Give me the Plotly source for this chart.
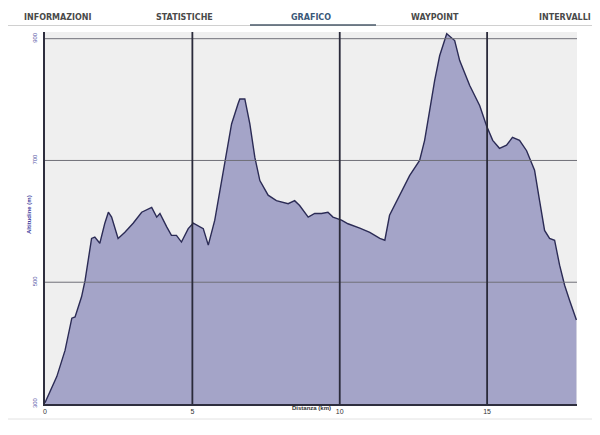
import plotly.graph_objects as go

distance_km = [0, 0.40, 0.68, 0.91, 1.02, 1.24, 1.36, 1.47, 1.58, 1.69, 1.86, 2.03, 2.15, 2.26,
               2.48, 2.71, 2.99, 3.28, 3.62, 3.79, 3.90, 4.13, 4.29, 4.46, 4.63, 4.86, 5.03,
               5.37, 5.54, 5.76, 5.93, 6.10, 6.33, 6.55, 6.61, 6.78, 6.95, 7.12, 7.29, 7.57,
               7.85, 8.25, 8.47, 8.64, 8.93, 9.15, 9.38, 9.60, 9.77, 10.06, 10.28, 10.68,
               11.02, 11.36, 11.53, 11.69, 12.03, 12.37, 12.71, 12.88, 13.05, 13.22, 13.39,
               13.63, 13.90, 14.07, 14.41, 14.75, 14.98, 15.19, 15.42, 15.66, 15.86, 16.10,
               16.34, 16.61, 16.78, 16.95, 17.12, 17.29, 17.46, 17.63, 17.80, 18.03]
altitude_m = [302, 345, 388, 441, 443, 476, 503, 536, 572, 574, 564, 597, 615, 607,
              572, 582, 597, 615, 623, 607, 613, 591, 577, 577, 566, 588, 597,
              588, 561, 602, 651, 695, 760, 793, 801, 801, 760, 705, 667, 643,
              634, 629, 634, 626, 607, 613, 613, 615, 607, 602, 596, 589,
              582, 572, 569, 610, 643, 675, 700, 733, 782, 831, 872,
              908, 897, 864, 823, 790, 757, 733, 720, 725, 738, 733,
              716, 684, 634, 585, 572, 569, 528, 495, 470, 438]

x_ticks = [0, 5, 10, 15]
y_ticks = [300, 500, 700, 900]
tabs = ["INFORMAZIONI", "STATISTICHE", "GRAFICO", "WAYPOINT", "INTERVALLI"]
tab_px = [58, 184, 311, 435, 537]

OFF = 8  # page body margin
L, R, T, B = 45, 577, 32, 404  # plot area in window pixels
W, H = 600 - OFF, 435 - OFF


def px(x):
    return (x - L) / (R - L)


def py(y):
    return (B - y) / (B - T)


fig = go.Figure()
fig.add_trace(go.Scatter(
    x=distance_km, y=altitude_m, mode="lines",
    line=dict(color="#2b2b55", width=1.4),
    fill="tozeroy", fillcolor="#a4a4c8",
    hoverinfo="skip", showlegend=False,
))

fig.update_layout(
    width=W, height=H,
    margin=dict(l=L - OFF, r=600 - R, t=T - OFF, b=435 - B),
    paper_bgcolor="white", plot_bgcolor="#efefef",
    font=dict(family="Liberation Sans, Arial, sans-serif"),
    xaxis=dict(range=[0, 18.05], tickvals=x_ticks, ticktext=[str(v) for v in x_ticks],
               showgrid=False,
               showline=True, linecolor="#2e2e3e", linewidth=1.5,
               zeroline=False, layer="above traces", ticks="",
               tickfont=dict(size=7, color="#333")),
    yaxis=dict(range=[300, 911], tickvals=y_ticks, ticktext=[str(v) for v in y_ticks],
               showgrid=False,
               showline=True, linecolor="#2e2e3e", linewidth=1.5,
               zeroline=False, layer="above traces", ticks="",
               tickangle=-90, ticklabelstandoff=4,
               tickfont=dict(size=6, color="#5a5aa8")),
)

for v in y_ticks[1:]:
    fig.add_shape(type="line", xref="paper", yref="y", x0=0, x1=1, y0=v, y1=v,
                  line=dict(color="#6f6f78", width=1), layer="above")
for v in x_ticks[1:]:
    fig.add_shape(type="line", xref="x", yref="paper", x0=v, x1=v, y0=0, y1=1,
                  line=dict(color="#2a2a3a", width=1.8), layer="above")

ann = []
for t, p in zip(tabs, tab_px):
    ann.append(dict(text="<b>" + t + "</b>", x=px(p), y=py(17), xref="paper", yref="paper",
                    xanchor="left" if t == "INTERVALLI" else "center", yanchor="middle",
                    showarrow=False,
                    font=dict(family="DejaVu Sans, sans-serif", size=8,
                              color="#3a5878" if t == "GRAFICO" else "#4a4a4a")))
ann.append(dict(text="<b>Altitudine (m)</b>", x=px(24), y=py(215), xref="paper", yref="paper",
                textangle=-90, showarrow=False, font=dict(size=6, color="#3d3d9e")))
ann.append(dict(text="<b>Distanza (km)</b>", x=px(311), y=py(413), xref="paper", yref="paper",
                showarrow=False, font=dict(size=6, color="#333")))
fig.update_layout(annotations=ann)

fig.add_shape(type="line", xref="paper", yref="paper", x0=px(0), x1=px(600), y0=py(25.5), y1=py(25.5),
              line=dict(color="#d0d0d0", width=1))
fig.add_shape(type="line", xref="paper", yref="paper", x0=px(250), x1=px(376), y0=py(25), y1=py(25),
              line=dict(color="#4a5a6a", width=1.5))
fig.add_shape(type="line", xref="paper", yref="paper", x0=px(0), x1=px(600), y0=py(419), y1=py(419),
              line=dict(color="#e2e2e2", width=1))

fig.write_html("out.html")
